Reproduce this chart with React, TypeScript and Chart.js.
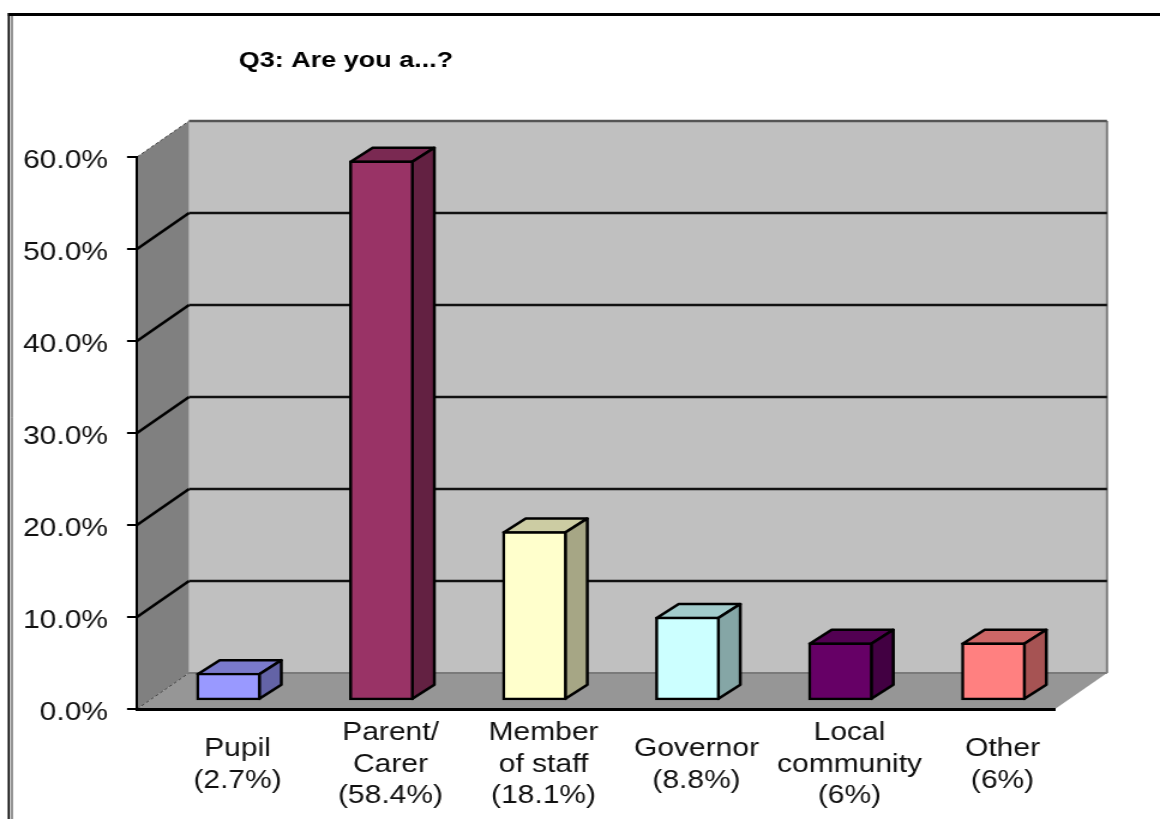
import React, { useEffect, useRef } from "react";
import { Chart, registerables } from "chart.js";

Chart.register(...registerables);

const categories: string[][] = [
  ["Pupil", "(2.7%)"],
  ["Parent/", "Carer", "(58.4%)"],
  ["Member", "of staff", "(18.1%)"],
  ["Governor", "(8.8%)"],
  ["Local", "community", "(6%)"],
  ["Other", "(6%)"],
];
const shares = [2.7, 58.4, 18.1, 8.8, 6, 6];
const barColours = ["#9999FF", "#993366", "#FFFFCC", "#CCFFFF", "#660066", "#FF8080"];
const chartTitle = "Q3: Are you a...?";

// The reference is horizontally stretched: the canvas is laid out narrower and stretched by CSS.
const LOGICAL_WIDTH = 967;
const SX = 1160 / LOGICAL_WIDTH;
const X = (px: number) => px / SX;
const WALL_DX = X(52);
const WALL_DY = -36;
const BAR_SHIFT_X = X(15);
const BAR_SHIFT_Y = -11;
const BAR_DX = X(22);
const BAR_DY = -14;

const shade = (hex: string, f: number) => {
  const n = parseInt(hex.slice(1), 16);
  const c = [(n >> 16) & 255, (n >> 8) & 255, n & 255].map((v) => Math.round(v * f));
  return `rgb(${c[0]},${c[1]},${c[2]})`;
};

const poly = (ctx: CanvasRenderingContext2D, pts: number[][], fill?: string, stroke?: string, lw = 2.5) => {
  ctx.beginPath();
  pts.forEach((p, i) => (i ? ctx.lineTo(p[0], p[1]) : ctx.moveTo(p[0], p[1])));
  ctx.closePath();
  if (fill) {
    ctx.fillStyle = fill;
    ctx.fill();
  }
  if (stroke) {
    ctx.strokeStyle = stroke;
    ctx.lineWidth = lw;
    ctx.lineJoin = "round";
    ctx.stroke();
  }
};

const line = (ctx: CanvasRenderingContext2D, x1: number, y1: number, x2: number, y2: number, color: string, lw: number, dash: number[] = []) => {
  ctx.beginPath();
  ctx.setLineDash(dash);
  ctx.moveTo(x1, y1);
  ctx.lineTo(x2, y2);
  ctx.strokeStyle = color;
  ctx.lineWidth = lw;
  ctx.stroke();
  ctx.setLineDash([]);
};

const box3d = {
  id: "box3d",
  afterLayout(chart: any) {
    const t = chart.titleBlock;
    if (t) {
      t.left = 0;
      t.right = X(346) * 2;
      t.top = 48;
    }
  },
  beforeDraw(chart: any) {
    const { ctx, chartArea: a, scales } = chart;
    const y = scales.y;
    ctx.save();
    ctx.fillStyle = "#ffffff";
    ctx.fillRect(0, 0, chart.width, chart.height);
    // outer frame of the picture
    line(ctx, X(8), 14.5, chart.width, 14.5, "#000", 3);
    line(ctx, X(8.8), 13, X(8.8), chart.height, "#000", X(2));
    line(ctx, X(12), 16, X(12), chart.height, "#000", X(1));
    // walls and floor
    const l = a.left, r = a.right, t = a.top, b = a.bottom;
    poly(ctx, [[l + WALL_DX, t + WALL_DY], [r + WALL_DX, t + WALL_DY], [r + WALL_DX, b + WALL_DY], [l + WALL_DX, b + WALL_DY]], "#C0C0C0");
    poly(ctx, [[l, t], [l + WALL_DX, t + WALL_DY], [l + WALL_DX, b + WALL_DY], [l, b]], "#808080");
    poly(ctx, [[l, b], [r, b], [r + WALL_DX, b + WALL_DY], [l + WALL_DX, b + WALL_DY]], "#969696");
    line(ctx, l + WALL_DX, b + WALL_DY, r + WALL_DX, b + WALL_DY, "#7a7a7a", 2);
    line(ctx, r + WALL_DX, t + WALL_DY, r + WALL_DX, b + WALL_DY, "#808080", 2);
    // grid lines
    y.ticks.forEach((tick: any) => {
      const py = y.getPixelForValue(tick.value);
      if (tick.value === y.min) {
        line(ctx, l, py, l + WALL_DX, py + WALL_DY, "#444", 1, [3, 2]);
        return;
      }
      const top = tick.value === y.max;
      line(ctx, l, py, l + WALL_DX, py + WALL_DY, top ? "#444" : "#000", top ? 1 : 2.4, top ? [3, 2] : []);
      line(ctx, l + WALL_DX, py + WALL_DY, r + WALL_DX, py + WALL_DY, top ? "#555" : "#111", 2.4);
    });
    ctx.restore();
  },
  beforeDatasetsDraw(chart: any) {
    const { ctx } = chart;
    ctx.save();
    ctx.translate(BAR_SHIFT_X, BAR_SHIFT_Y);
    chart.getDatasetMeta(0).data.forEach((bar: any, i: number) => {
      const c = barColours[i];
      const l = bar.x - bar.width / 2 + 1;
      const r = bar.x + bar.width / 2 - 1;
      const t = bar.y + 1;
      const b = bar.base - 1;
      poly(ctx, [[l, t], [r, t], [r + BAR_DX, t + BAR_DY], [l + BAR_DX, t + BAR_DY]], shade(c, 0.8), "#000");
      poly(ctx, [[r, t], [r + BAR_DX, t + BAR_DY], [r + BAR_DX, b + BAR_DY], [r, b]], shade(c, 0.65), "#000");
    });
  },
  afterDatasetsDraw(chart: any) {
    chart.ctx.restore();
  },
};

export default function App() {
  const ref = useRef<HTMLCanvasElement>(null);
  useEffect(() => {
    const chart = new Chart(ref.current as HTMLCanvasElement, {
      type: "bar",
      data: {
        labels: categories as any,
        datasets: [
          {
            data: shares,
            base: -0.2,
            backgroundColor: barColours,
            borderColor: "#000",
            borderWidth: 2.5,
            borderSkipped: false,
            barThickness: X(64),
            clip: false as any,
          },
        ],
      },
      options: {
        animation: false,
        responsive: false,
        devicePixelRatio: 1,
        events: [],
        layout: { padding: { top: 157 - 25, left: 0, right: X(1160 - 1055), bottom: 0 } },
        plugins: {
          legend: { display: false },
          tooltip: { enabled: false },
          title: {
            display: true,
            text: chartTitle,
            color: "#000",
            align: "center",
            padding: 0,
            font: { family: "'Liberation Sans'", size: 22.5, weight: "bold", lineHeight: 25 / 22.5 },
          },
        },
        scales: {
          x: {
            afterFit: (s: any) => {
              s.height = 819 - 709;
            },
            grid: { display: false, drawTicks: false },
            border: { display: true, color: "#000", width: 3 },
            ticks: {
              color: "#111",
              maxRotation: 0,
              autoSkip: false,
              crossAlign: "center",
              padding: 24,
              labelOffset: X(24),
              font: { family: "'Liberation Sans'", size: 25, lineHeight: 1.27 },
            },
          },
          y: {
            min: 0,
            max: 60,
            afterFit: (s: any) => {
              s.width = X(137);
            },
            grid: { drawOnChartArea: false, drawTicks: true, tickLength: X(10), color: "#000", lineWidth: 2 },
            border: { display: true, color: "#000", width: 2 },
            ticks: {
              stepSize: 10,
              color: "#111",
              padding: X(19),
              labelOffset: 4,
              font: { family: "'Liberation Sans'", size: 25 },
              callback: (v: any) => Number(v).toFixed(1) + "%",
            },
          },
        },
      } as any,
      plugins: [box3d as any],
    });
    return () => chart.destroy();
  }, []);
  return (
    <div style={{ position: "absolute", left: 0, top: 0, width: 1160, height: 819, overflow: "hidden" }}>
      <canvas ref={ref} width={LOGICAL_WIDTH} height={819} style={{ display: "block", width: 1160, height: 819 }} />
    </div>
  );
}
